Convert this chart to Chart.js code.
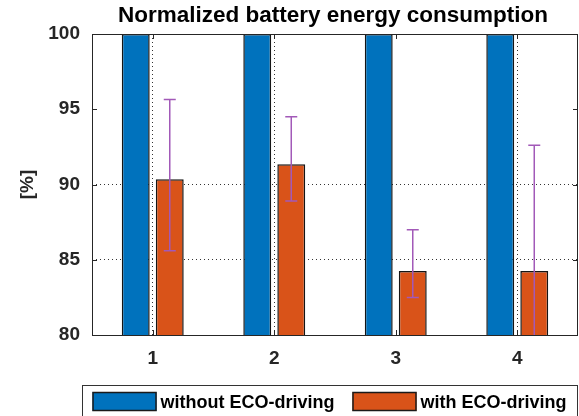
<!DOCTYPE html>
<html>
<head>
<meta charset="utf-8">
<script src="https://cdn.jsdelivr.net/npm/chart.js@4"></script>
<style>
  html, body { margin: 0; padding: 0; background: #fff; }
  #wrap { width: 579px; height: 416px; }
</style>
</head>
<body>
<div id="wrap"><canvas id="bar-chart" width="579" height="416"></canvas></div>
<script>
const categories = ["1", "2", "3", "4"];
const withoutEco = [100, 100, 100, 100];
const withEco = [90.35, 91.35, 84.25, 84.25];
const errLow = [85.6, 88.9, 82.5, 75.9];
const errHigh = [95.65, 94.5, 87.0, 92.6];
const yTicks = [80, 85, 90, 95, 100];
const chartTitle = "Normalized battery energy consumption";

const FONT = "'Liberation Sans', Arial, sans-serif";

// error bars for the ECO series, drawn through the y scale
const errorBars = {
  id: "errorBars",
  afterDatasetsDraw(chart) {
    const ctx = chart.ctx;
    const y = chart.scales.y;
    const area = chart.chartArea;
    const meta = chart.getDatasetMeta(1);
    ctx.save();
    ctx.beginPath();
    ctx.rect(area.left, area.top, area.right - area.left, area.bottom - area.top);
    ctx.clip();
    ctx.strokeStyle = "#a259b8";
    ctx.lineWidth = 1.5;
    meta.data.forEach((bar, i) => {
      const x = bar.x;
      const top = y.getPixelForValue(errHigh[i]);
      const bot = y.getPixelForValue(errLow[i]);
      ctx.beginPath();
      ctx.moveTo(x, top); ctx.lineTo(x, bot);
      ctx.moveTo(x - 6, top); ctx.lineTo(x + 6, top);
      ctx.moveTo(x - 6, bot); ctx.lineTo(x + 6, bot);
      ctx.stroke();
    });
    ctx.restore();
  },
};

// axes box, inner tick marks, title over the plot and a boxed legend
const frame = {
  id: "frame",
  afterDraw(chart) {
    const ctx = chart.ctx;
    const a = chart.chartArea;
    const y = chart.scales.y;
    const x = chart.scales.x;
    ctx.save();
    ctx.strokeStyle = "#262626";
    ctx.lineWidth = 1;
    ctx.strokeRect(a.left + 0.5, a.top + 0.5, a.right - a.left - 1, a.bottom - a.top);
    ctx.beginPath();
    yTicks.forEach(v => {
      const py = Math.round(y.getPixelForValue(v)) + 0.5;
      ctx.moveTo(a.left, py); ctx.lineTo(a.left + 5, py);
      ctx.moveTo(a.right, py); ctx.lineTo(a.right - 5, py);
    });
    categories.forEach((c, i) => {
      const px = Math.round(x.getPixelForValue(i)) + 0.5;
      ctx.moveTo(px, a.bottom); ctx.lineTo(px, a.bottom - 5);
      ctx.moveTo(px, a.top); ctx.lineTo(px, a.top + 5);
    });
    ctx.stroke();

    // title, centred on the axes
    ctx.fillStyle = "#000";
    ctx.font = "bold 22.5px " + FONT;
    ctx.textAlign = "center";
    ctx.textBaseline = "alphabetic";
    ctx.fillText(chartTitle, (a.left + a.right) / 2 - 2, 22);

    // legend
    const lgLeft = 82, lgRight = 577, lgTop = 385;
    ctx.strokeStyle = "#333";
    ctx.strokeRect(lgLeft + 0.5, lgTop + 0.5, lgRight - lgLeft, 40);
    ctx.font = "bold 18px " + FONT;
    ctx.textAlign = "left";
    const sw = 64, sh = 19, gapText = 4, gapItem = 18;
    const items = chart.data.datasets.map(ds => ({
      label: ds.label, color: ds.backgroundColor, w: ctx.measureText(ds.label).width,
    }));
    const total = items.reduce((s, it) => s + sw + gapText + it.w, 0) + gapItem * (items.length - 1);
    let px = (lgLeft + lgRight) / 2 - total / 2;
    items.forEach(it => {
      ctx.fillStyle = it.color;
      ctx.fillRect(px, 392, sw, sh);
      ctx.strokeStyle = "#1a1a1a";
      ctx.lineWidth = 1.5;
      ctx.strokeRect(px + 0.5, 392.5, sw - 1, sh - 1);
      ctx.fillStyle = "#000";
      ctx.fillText(it.label, px + sw + gapText, 408);
      px += sw + gapText + it.w + gapItem;
    });
    ctx.restore();
  },
};

const config = {
  type: "bar",
  data: {
    labels: categories,
    datasets: [
      {
        label: "without ECO-driving",
        data: withoutEco,
        backgroundColor: "#0072bd",
        borderColor: "#151515",
        borderWidth: 1.5,
        categoryPercentage: 0.56,
        barPercentage: 0.82,
      },
      {
        label: "with ECO-driving",
        data: withEco,
        backgroundColor: "#d95319",
        borderColor: "#151515",
        borderWidth: 1.5,
        categoryPercentage: 0.56,
        barPercentage: 0.82,
      },
    ],
  },
  options: {
    responsive: false,
    animation: false,
    layout: { padding: { left: 0, right: 1, top: 34, bottom: 33 } },
    scales: {
      x: {
        grid: {
          offset: false,
          drawTicks: false,
          color: ctx => (ctx.index === 2 ? "transparent" : "#333"),
          lineWidth: 1,
        },
        border: { display: false, dash: [1, 3] },
        ticks: {
          color: "#262626",
          padding: 12,
          font: { family: FONT, size: 19, weight: "bold" },
        },
        afterFit: s => { s.height = 48; },
      },
      y: {
        min: 80,
        max: 100,
        afterBuildTicks: s => { s.ticks = yTicks.map(v => ({ value: v })); },
        grid: {
          drawTicks: false,
          color: ctx => (ctx.tick && (ctx.tick.value === 85 || ctx.tick.value === 90) ? "#333" : "transparent"),
        },
        border: { display: false, dash: [1, 3] },
        ticks: {
          color: "#262626",
          padding: 12,
          font: { family: FONT, size: 19, weight: "bold" },
        },
        title: {
          display: true,
          text: "[%]",
          color: "#262626",
          padding: { top: 16, bottom: 0 },
          font: { family: FONT, size: 19, weight: "bold" },
        },
        afterFit: s => { s.width = 92; },
      },
    },
    plugins: {
      title: { display: false },
      legend: { display: false },
      tooltip: { enabled: false },
    },
  },
  plugins: [errorBars, frame],
};

new Chart(document.getElementById("bar-chart").getContext("2d"), config);
</script>
</body>
</html>
